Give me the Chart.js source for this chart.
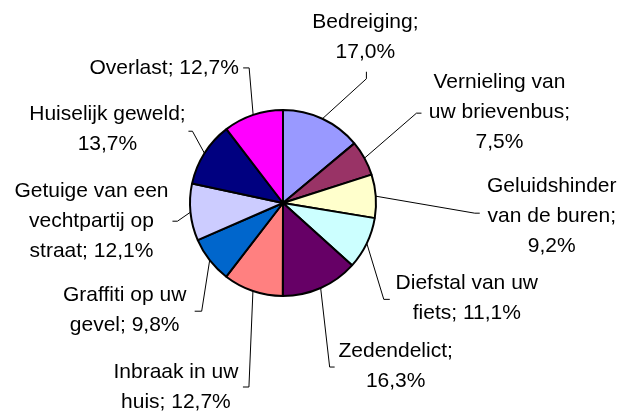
<!DOCTYPE html>
<html>
<head>
<meta charset="utf-8">
<script src="https://cdn.jsdelivr.net/npm/chart.js"></script>
<style>
    html, body { margin: 0; padding: 0; background: #fff; }
    #wrap { width: 637px; height: 414px; }
</style>
</head>
<body>
<div id="wrap"><canvas id="pieChart"></canvas></div>
<script>
const categories = [
    'Bedreiging',
    'Vernieling van uw brievenbus',
    'Geluidshinder van de buren',
    'Diefstal van uw fiets',
    'Zedendelict',
    'Inbraak in uw huis',
    'Graffiti op uw gevel',
    'Getuige van een vechtpartij op straat',
    'Huiselijk geweld',
    'Overlast'
];
const values = [17.0, 7.5, 9.2, 11.1, 16.3, 12.7, 9.8, 12.1, 13.7, 12.7];
const sliceColors = [
    '#9999ff', '#993366', '#ffffcc', '#ccffff', '#660066',
    '#ff8080', '#0066cc', '#ccccff', '#000080', '#ff00ff'
];

// label placement, relative to the outer middle point of each slice
// text: [centre dx, first baseline dy], elbow: [dx, dy], tick: [dx, dy], wrap: max line width
const labelLayout = [
    { text: [43, -91], elbow: [44, -40], tick: [0, -7], wrap: 120 },
    { text: [135, -70], elbow: [52, -45], tick: [5, 0], wrap: 155 },
    { text: [176, -4], elbow: [99, 17], tick: [5, 0], wrap: 155 },
    { text: [100, 46], elbow: [17, 56], tick: [6, 0], wrap: 155 },
    { text: [75, 69], elbow: [9, 79], tick: [5, 0], wrap: 120 },
    { text: [-77, 87], elbow: [-4, 96], tick: [-6, 0], wrap: 140 },
    { text: [-85, 41], elbow: [-8, 51], tick: [-7, 0], wrap: 140 },
    { text: [-99, -15], elbow: [-13, 9], tick: [-5, 0], wrap: 160 },
    { text: [-97, -33], elbow: [-12, -22], tick: [-4, 0], wrap: 165 },
    { text: [-89, -41], elbow: [-4, -47], tick: [-6, 0], wrap: 200 }
];

function labelText(i) {
    return categories[i] + '; ' + values[i].toFixed(1).replace('.', ',') + '%';
}

function wrapText(ctx, text, maxWidth) {
    const words = text.split(' ');
    const lines = [];
    let line = '';
    words.forEach(w => {
        const test = line ? line + ' ' + w : w;
        if (line && ctx.measureText(test).width > maxWidth) {
            lines.push(line);
            line = w;
        } else {
            line = test;
        }
    });
    if (line) lines.push(line);
    return lines;
}

const leaderLabels = {
    id: 'leaderLabels',
    afterDatasetsDraw(chart) {
        const ctx = chart.ctx;
        const meta = chart.getDatasetMeta(0);
        ctx.save();
        ctx.font = '21px "Liberation Sans", Arial, sans-serif';
        ctx.fillStyle = '#000';
        ctx.strokeStyle = '#000';
        ctx.lineWidth = 1;
        ctx.textAlign = 'center';
        ctx.textBaseline = 'alphabetic';
        meta.data.forEach((arc, i) => {
            const p = arc.getProps(['x', 'y', 'startAngle', 'endAngle', 'outerRadius'], true);
            const mid = (p.startAngle + p.endAngle) / 2;
            const px = p.x + Math.cos(mid) * p.outerRadius;
            const py = p.y + Math.sin(mid) * p.outerRadius;
            const L = labelLayout[i];
            const ex = px + L.elbow[0];
            const ey = py + L.elbow[1];
            ctx.beginPath();
            ctx.moveTo(px, py);
            ctx.lineTo(ex, ey);
            ctx.lineTo(ex + L.tick[0], ey + L.tick[1]);
            ctx.stroke();
            const lines = wrapText(ctx, labelText(i), L.wrap);
            lines.forEach((line, k) => {
                ctx.fillText(line, px + L.text[0], py + L.text[1] + k * 30);
            });
        });
        ctx.restore();
    }
};

const config = {
    type: 'pie',
    data: {
        labels: categories,
        datasets: [{
            data: values,
            backgroundColor: sliceColors,
            borderColor: '#000',
            borderWidth: 2
        }]
    },
    options: {
        responsive: true,
        maintainAspectRatio: false,
        animation: false,
        layout: {
            padding: { left: 189, right: 260, top: 109, bottom: 117 }
        },
        plugins: {
            legend: { display: false },
            tooltip: { enabled: false }
        }
    },
    plugins: [leaderLabels]
};

const ctx = document.getElementById('pieChart').getContext('2d');
const chart = new Chart(ctx, config);
</script>
</body>
</html>
